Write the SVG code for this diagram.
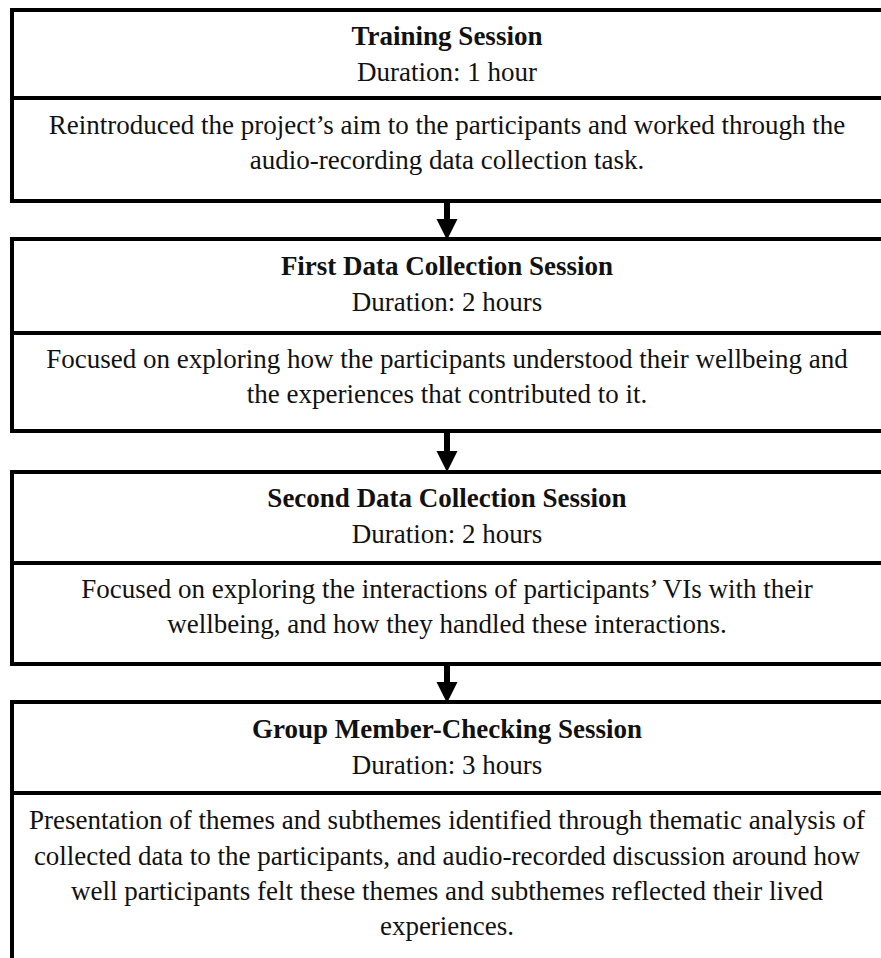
<svg xmlns="http://www.w3.org/2000/svg" width="881" height="958" viewBox="0 0 881 958">
<style>
.box{fill:#fff;stroke:#000;stroke-width:4}
.div{stroke:#000;stroke-width:4}
text{font-family:"Liberation Serif","Times New Roman",serif;font-size:27px;fill:#111;text-anchor:middle}
.t{font-weight:bold}
.conn{stroke:#000;stroke-width:6}
</style>
<defs>
<marker id="ah" markerUnits="userSpaceOnUse" markerWidth="22" markerHeight="22" refX="0" refY="10.5" orient="auto" viewBox="0 0 22 21">
<path d="M0,0 L21,10.5 L0,21 z" fill="#000"/>
</marker>
</defs>
<rect width="881" height="958" fill="#fff"/>
<g id="node1">
<rect class="box" x="12" y="10" width="872" height="191"/>
<line class="div" x1="12" y1="98" x2="884" y2="98"/>
<text class="t" x="447" y="45">Training Session</text>
<text x="447" y="81">Duration: 1 hour</text>
<text x="447" y="134">Reintroduced the project’s aim to the participants and worked through the</text>
<text x="447" y="169">audio-recording data collection task.</text>
</g>
<g id="node2">
<rect class="box" x="12" y="239" width="872" height="192"/>
<line class="div" x1="12" y1="333" x2="884" y2="333"/>
<text class="t" x="447" y="275">First Data Collection Session</text>
<text x="447" y="311">Duration: 2 hours</text>
<text x="447" y="368">Focused on exploring how the participants understood their wellbeing and</text>
<text x="447" y="403">the experiences that contributed to it.</text>
</g>
<g id="node3">
<rect class="box" x="12" y="472" width="872" height="192"/>
<line class="div" x1="12" y1="563" x2="884" y2="563"/>
<text class="t" x="447" y="507">Second Data Collection Session</text>
<text x="447" y="543">Duration: 2 hours</text>
<text x="447" y="598">Focused on exploring the interactions of participants’ VIs with their</text>
<text x="447" y="633">wellbeing, and how they handled these interactions.</text>
</g>
<g id="node4">
<rect class="box" x="12" y="702" width="872" height="270"/>
<line class="div" x1="12" y1="793" x2="884" y2="793"/>
<text class="t" x="447" y="738">Group Member-Checking Session</text>
<text x="447" y="774">Duration: 3 hours</text>
<text x="447" y="829">Presentation of themes and subthemes identified through thematic analysis of</text>
<text x="447" y="865">collected data to the participants, and audio-recorded discussion around how</text>
<text x="447" y="900">well participants felt these themes and subthemes reflected their lived</text>
<text x="447" y="935">experiences.</text>
</g>
<g id="connectors">
<line class="conn" x1="447" y1="201" x2="447" y2="219" marker-end="url(#ah)"/>
<line class="conn" x1="447" y1="431" x2="447" y2="451" marker-end="url(#ah)"/>
<line class="conn" x1="447" y1="664" x2="447" y2="682" marker-end="url(#ah)"/>
</g>
</svg>
